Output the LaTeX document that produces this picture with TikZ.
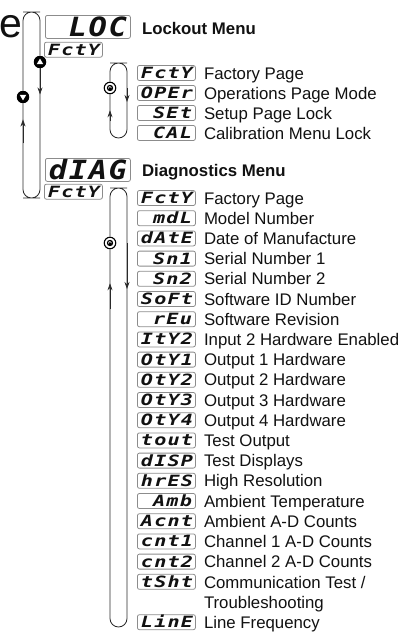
\documentclass[tikz,border=0pt]{standalone}
\usepackage{fontspec}
\setmainfont{Liberation Sans}
\newfontfamily\segfont[FakeStretch=1.3,LetterSpace=8]{DejaVu Sans Mono}
\newfontfamily\bigsegfont[FakeStretch=1.15,LetterSpace=6]{DejaVu Sans Mono}
\usetikzlibrary{arrows.meta,calc}
\definecolor{ink}{HTML}{111111}
\definecolor{frame}{HTML}{8C8C8C}
\definecolor{wire}{HTML}{2A2A2A}

\begin{document}
\begin{tikzpicture}[
  x=1pt, y=-1pt,
  font=\fontsize{16.8}{20.2}\selectfont,
  >={Stealth[length=7pt,width=5pt]},
  disp/.style={draw=frame, line width=0.8pt, rounded corners=2pt, align=right, inner xsep=3.5pt, inner ysep=0pt, text depth=0pt, text=ink},
  bigdisp/.style={disp, text width=78pt, minimum height=23pt, text height=19pt, font=\bigsegfont\fontsize{26.5}{26.5}\selectfont\bfseries\itshape},
  smalldisp/.style={disp, text width=51pt, minimum height=15pt, text height=11pt, font=\segfont\fontsize{15.5}{15.5}\selectfont\bfseries\itshape},
  item/.style={smalldisp, anchor=west},
  label/.style={inner sep=0pt, text=ink},
  rowlabel/.style={label, anchor=west, text height=12pt, text depth=0pt},
  menutitle/.style={rowlabel, font=\fontsize{16.8}{20.2}\selectfont\bfseries},
  wire/.style={draw=wire, line width=0.8pt, rounded corners=8.5pt},
  flow/.style={wire, ->},
  upkey/.style={circle, fill=black, inner sep=0pt, minimum size=12.5pt, path picture={\fill[white] ($(path picture bounding box.center)+(0,-3.4)$) -- ++(3.3,5.6) -- ++(-6.6,0) -- cycle;}},
  downkey/.style={circle, fill=black, inner sep=0pt, minimum size=12.5pt, path picture={\fill[white] ($(path picture bounding box.center)+(0,3.4)$) -- ++(3.3,-5.6) -- ++(-6.6,0) -- cycle;}},
  cyclekey/.style={circle, draw=black, line width=1.1pt, fill=white, inner sep=0pt, minimum size=11.5pt, path picture={\fill[black] (path picture bounding box.center) circle (3.2pt); \draw[white, line width=0.7pt] ($(path picture bounding box.center)+(1.5,0)$) arc[start angle=0, end angle=200, radius=1.5pt];}}
]
\useasboundingbox (0,0) rectangle (411,632);

% heading letter cut by the left margin
\node[label, anchor=base east, font=\fontsize{41}{41}\selectfont] (headletter) at (23,37.5) {e};

% outer loop with up / down keys
\node[upkey] (up) at (40,62) {};
\node[downkey] (down) at (23,97) {};
\coordinate (outertop) at (31.5,12);
\coordinate (outerbot) at (31.5,198);
\draw[wire] (down.north) |- (outertop) -| (up.north);
\draw[wire] (up.south) |- (outerbot) -| (down.south);
\draw[flow] (up.south) -- ++(0,26);
\draw[flow] ($(down.south)+(0,40)$) -- ($(down.south)+(0,16)$);

% Lockout menu
\node[bigdisp, anchor=north west] (loc) at (45,15) {LOC};
\node[smalldisp, anchor=north west] (locfcty) at ($(loc.south west)+(-1,3)$) {FctY};
\node[menutitle] (loctitle) at ($(loc.east)+(11,2)$) {Lockout Menu};

\node[cyclekey] (lockkey) at (110,88) {};
\coordinate (locktop) at (118.5,63);
\coordinate (lockcorner) at (127,138);
\draw[wire] (lockkey.north) |- (locktop) -| (lockcorner) -| (lockkey.south);
\draw[flow] (lockcorner |- lockkey) -- ++(0,14);
\draw[flow] ($(lockkey.south)+(0,27)$) -- ($(lockkey.south)+(0,16)$);

\node[item] (lfcty) at (137,73) {FctY};
\node[item] (loper) at ($(lfcty.west)+(0,20)$) {OPEr};
\node[item] (lset) at ($(loper.west)+(0,20)$) {SEt};
\node[item] (lcal) at ($(lset.west)+(0,20)$) {CAL};
\node[rowlabel] (lfctytext) at ($(lfcty.east)+(8,0)$) {Factory Page};
\node[rowlabel] (lopertext) at ($(loper.east)+(8,0)$) {Operations Page Mode};
\node[rowlabel] (lsettext) at ($(lset.east)+(8,0)$) {Setup Page Lock};
\node[rowlabel] (lcaltext) at ($(lcal.east)+(8,0)$) {Calibration Menu Lock};

% Diagnostics menu
\node[bigdisp, anchor=north west] (diag) at (45,158) {dIAG};
\node[smalldisp, anchor=north west] (diagfcty) at ($(diag.south west)+(-1,2)$) {FctY};
\node[menutitle] (diagtitle) at ($(diag.east)+(11,0.5)$) {Diagnostics Menu};

\node[cyclekey] (diagkey) at (110,243) {};
\coordinate (diagtop) at (118.5,188);
\coordinate (diagcorner) at (127,627);
\draw[wire] (diagkey.north) |- (diagtop) -| (diagcorner) -| (diagkey.south);
\draw[flow] (diagcorner |- diagkey) -- ++(0,46);
\draw[flow] ($(diagkey.south)+(0,60)$) -- ($(diagkey.south)+(0,34)$);

\node[item] (dfcty) at (137,198) {FctY};
\node[item] (dmdl) at ($(dfcty.west)+(0,20.2)$) {mdL};
\node[item] (ddate) at ($(dmdl.west)+(0,20.2)$) {dAtE};
\node[item] (dsn1) at ($(ddate.west)+(0,20.2)$) {Sn1};
\node[item] (dsn2) at ($(dsn1.west)+(0,20.2)$) {Sn2};
\node[item] (dsoft) at ($(dsn2.west)+(0,20.2)$) {SoFt};
\node[item] (drev) at ($(dsoft.west)+(0,20.2)$) {rEu};
\node[item] (dity2) at ($(drev.west)+(0,20.2)$) {ItY2};
\node[item] (doty1) at ($(dity2.west)+(0,20.2)$) {OtY1};
\node[item] (doty2) at ($(doty1.west)+(0,20.2)$) {OtY2};
\node[item] (doty3) at ($(doty2.west)+(0,20.2)$) {OtY3};
\node[item] (doty4) at ($(doty3.west)+(0,20.2)$) {OtY4};
\node[item] (dtout) at ($(doty4.west)+(0,20.2)$) {tout};
\node[item] (ddisp) at ($(dtout.west)+(0,20.2)$) {dISP};
\node[item] (dhres) at ($(ddisp.west)+(0,20.2)$) {hrES};
\node[item] (damb) at ($(dhres.west)+(0,20.2)$) {Amb};
\node[item] (dacnt) at ($(damb.west)+(0,20.2)$) {Acnt};
\node[item] (dcnt1) at ($(dacnt.west)+(0,20.2)$) {cnt1};
\node[item] (dcnt2) at ($(dcnt1.west)+(0,20.2)$) {cnt2};
\node[item] (dtsht) at ($(dcnt2.west)+(0,20.2)$) {tSht};
\node[item] (dline) at ($(dtsht.west)+(0,40.4)$) {LinE};

\node[rowlabel] (dfctytext) at ($(dfcty.east)+(8,0)$) {Factory Page};
\node[rowlabel] (dmdltext) at ($(dmdl.east)+(8,0)$) {Model Number};
\node[rowlabel] (ddatetext) at ($(ddate.east)+(8,0)$) {Date of Manufacture};
\node[rowlabel] (dsn1text) at ($(dsn1.east)+(8,0)$) {Serial Number 1};
\node[rowlabel] (dsn2text) at ($(dsn2.east)+(8,0)$) {Serial Number 2};
\node[rowlabel] (dsofttext) at ($(dsoft.east)+(8,0)$) {Software ID Number};
\node[rowlabel] (drevtext) at ($(drev.east)+(8,0)$) {Software Revision};
\node[rowlabel] (dity2text) at ($(dity2.east)+(8,0)$) {Input 2 Hardware Enabled};
\node[rowlabel] (doty1text) at ($(doty1.east)+(8,0)$) {Output 1 Hardware};
\node[rowlabel] (doty2text) at ($(doty2.east)+(8,0)$) {Output 2 Hardware};
\node[rowlabel] (doty3text) at ($(doty3.east)+(8,0)$) {Output 3 Hardware};
\node[rowlabel] (doty4text) at ($(doty4.east)+(8,0)$) {Output 4 Hardware};
\node[rowlabel] (dtouttext) at ($(dtout.east)+(8,0)$) {Test Output};
\node[rowlabel] (ddisptext) at ($(ddisp.east)+(8,0)$) {Test Displays};
\node[rowlabel] (dhrestext) at ($(dhres.east)+(8,0)$) {High Resolution};
\node[rowlabel] (dambtext) at ($(damb.east)+(8,0)$) {Ambient Temperature};
\node[rowlabel] (dacnttext) at ($(dacnt.east)+(8,0)$) {Ambient A-D Counts};
\node[rowlabel] (dcnt1text) at ($(dcnt1.east)+(8,0)$) {Channel 1 A-D Counts};
\node[rowlabel] (dcnt2text) at ($(dcnt2.east)+(8,0)$) {Channel 2 A-D Counts};
\node[label, align=left, anchor=north west] (dtshttext) at ($(dtsht.east)+(8,-6)$) {Communication Test /\\Troubleshooting};
\node[rowlabel] (dlinetext) at ($(dline.east)+(8,0)$) {Line Frequency};

\end{tikzpicture}
\end{document}
